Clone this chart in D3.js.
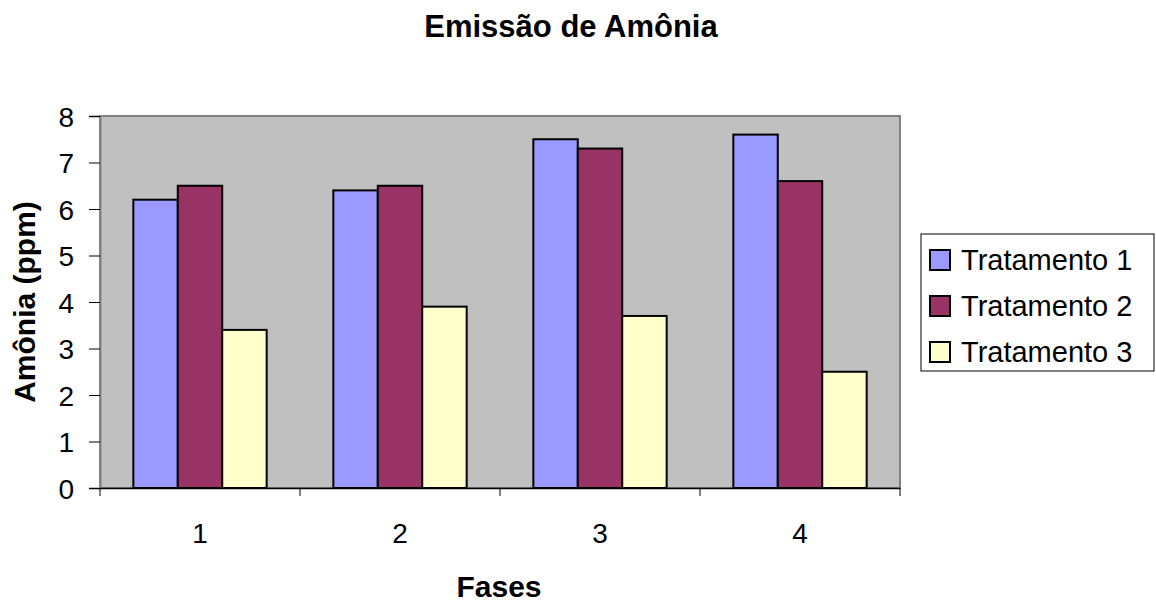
<!DOCTYPE html>
<html>
<head>
<meta charset="utf-8">
<script src="https://cdn.jsdelivr.net/npm/d3@7"></script>
<style>
  body { margin: 0; background: #fff; }
  svg text { font-family: "Liberation Sans", Arial, sans-serif; fill: #000; }
</style>
</head>
<body>
<svg id="chart" width="1156" height="606"></svg>
<script>
(function() {
  const phases = ['1', '2', '3', '4'];
  const seriesNames = ['Tratamento 1', 'Tratamento 2', 'Tratamento 3'];
  const tratamento1 = [6.2, 6.4, 7.5, 7.6];
  const tratamento2 = [6.5, 6.5, 7.3, 6.6];
  const tratamento3 = [3.4, 3.9, 3.7, 2.5];
  const colors = ['#9999ff', '#993366', '#ffffcc'];
  const yTicks = [0, 1, 2, 3, 4, 5, 6, 7, 8];

  const series = [tratamento1, tratamento2, tratamento3];
  let svg = d3.select('#chart');
  let plot = {'left': 100, 'right': 900, 'top': 116, 'bottom': 488};

  let x = d3.scaleBand()
    .domain(phases)
    .range([plot.left, plot.right]);
  // Excel gap width 150%: three bars fill 3 / 4.5 of a category
  let inner = d3.scaleBand()
    .domain(d3.range(series.length))
    .range([0, x.bandwidth() * 3 / 4.5]);
  let innerOffset = (x.bandwidth() - inner.range()[1]) / 2;
  let y = d3.scaleLinear()
    .domain([0, 8])
    .range([plot.bottom, plot.top]);

  svg.append('rect')
    .attr('x', plot.left)
    .attr('y', plot.top)
    .attr('width', plot.right - plot.left)
    .attr('height', plot.bottom - plot.top)
    .attr('fill', '#c0c0c0')
    .attr('stroke', '#808080')
    .attr('stroke-width', 2);

  let groups = svg.append('g')
    .selectAll('g')
    .data(series)
    .enter()
    .append('g')
    .attr('fill', (d, i) => colors[i]);
  groups.selectAll('rect')
    .data((d, i) => d.map((v, j) => ({'s': i, 'phase': phases[j], 'value': v})))
    .enter()
    .append('rect')
    .attr('x', d => x(d.phase) + innerOffset + inner(d.s))
    .attr('y', d => y(d.value))
    .attr('width', inner.bandwidth())
    .attr('height', d => y(0) - y(d.value))
    .attr('stroke', '#000')
    .attr('stroke-width', 2);

  let yAxis = d3.axisLeft(y).tickValues(yTicks).tickSize(11).tickPadding(15);
  let yg = svg.append('g')
    .attr('transform', 'translate(' + plot.left + ', 0)')
    .call(yAxis);
  yg.select('.domain').attr('stroke', '#808080').attr('stroke-width', 2);
  yg.selectAll('.tick line').attr('stroke', '#000');
  yg.selectAll('.tick text').style('font-size', '28px').attr('dy', '0.36em');

  let xAxis = d3.axisBottom(x).tickSize(0).tickPadding(0);
  let xg = svg.append('g')
    .attr('transform', 'translate(0, ' + plot.bottom + ')')
    .call(xAxis);
  xg.select('.domain').attr('stroke', '#000').attr('stroke-width', 1.5);
  xg.selectAll('.tick text')
    .style('font-size', '28px')
    .attr('y', 55)
    .attr('dy', 0);
  xg.selectAll('.sep')
    .data(d3.range(phases.length + 1))
    .enter()
    .append('line')
    .attr('x1', i => plot.left + i * x.step())
    .attr('x2', i => plot.left + i * x.step())
    .attr('y1', 0)
    .attr('y2', 8)
    .attr('stroke', '#000');

  svg.append('text')
    .attr('x', 571)
    .attr('y', 37)
    .attr('text-anchor', 'middle')
    .style('font-size', '31px')
    .style('font-weight', 'bold')
    .text('Emissão de Amônia');
  svg.append('text')
    .attr('x', 499)
    .attr('y', 597)
    .attr('text-anchor', 'middle')
    .style('font-size', '30px')
    .style('font-weight', 'bold')
    .text('Fases');
  svg.append('text')
    .attr('transform', 'translate(35, 302) rotate(-90)')
    .attr('text-anchor', 'middle')
    .style('font-size', '30px')
    .style('font-weight', 'bold')
    .text('Amônia (ppm)');

  let legend = svg.append('g').attr('transform', 'translate(921, 234)');
  legend.append('rect')
    .attr('width', 233)
    .attr('height', 137)
    .attr('fill', '#fff')
    .attr('stroke', '#000')
    .attr('stroke-width', 1);
  let items = legend.selectAll('g')
    .data(seriesNames)
    .enter()
    .append('g')
    .attr('transform', (d, i) => 'translate(9, ' + (26 + i * 46) + ')');
  items.append('rect')
    .attr('x', 0)
    .attr('y', -10)
    .attr('width', 20)
    .attr('height', 20)
    .attr('fill', (d, i) => colors[i])
    .attr('stroke', '#000')
    .attr('stroke-width', 2);
  items.append('text')
    .attr('x', 31)
    .attr('y', 10)
    .style('font-size', '29px')
    .text(d => d);
})();
</script>
</body>
</html>
